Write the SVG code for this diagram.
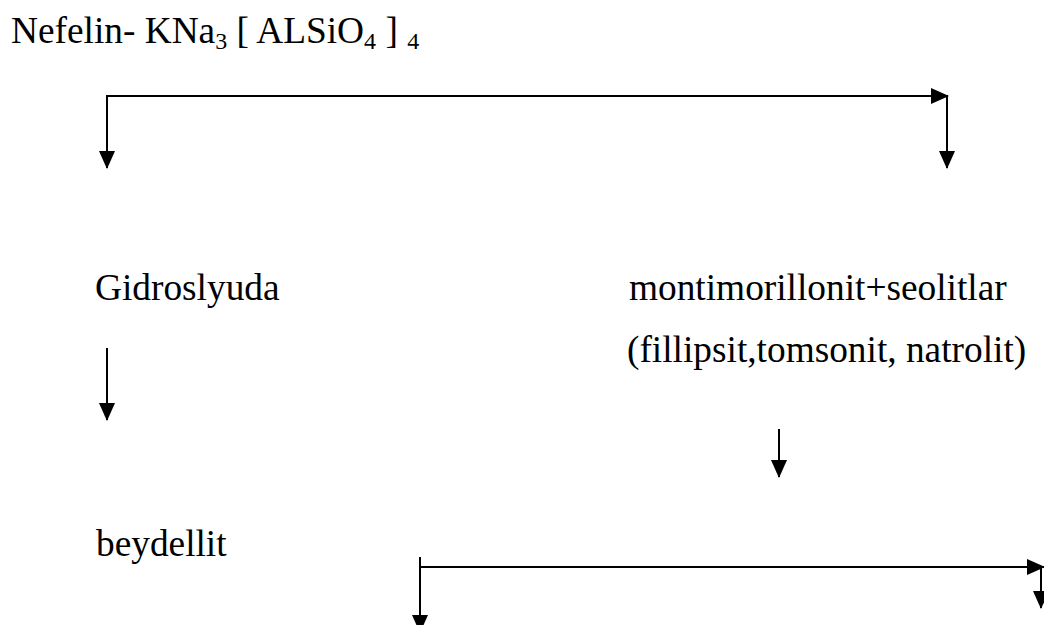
<svg xmlns="http://www.w3.org/2000/svg" width="1044" height="625" viewBox="0 0 1044 625">
<defs>
<style>
.t{font-family:"Liberation Serif","Times New Roman",serif;font-size:37.33px;fill:#000}
.s{font-size:24px}
.c{stroke:#000;stroke-width:2;fill:none}
</style>
<marker id="ah" markerUnits="userSpaceOnUse" markerWidth="18" markerHeight="16" viewBox="0 0 18 16" refX="17" refY="8" orient="auto">
<path d="M0,0 L18,8 L0,16 Z" fill="#000"/>
</marker>
</defs>
<rect width="1044" height="625" fill="#fff"/>
<g id="title"><text class="t" x="11" y="43">Nefelin- KNa<tspan class="s" dy="6">3</tspan><tspan dy="-6"> [ ALSiO</tspan><tspan class="s" dy="6">4</tspan><tspan dy="-6"> ] </tspan><tspan class="s" dy="6">4</tspan></text></g>
<g id="gidroslyuda"><text class="t" x="95" y="300">Gidroslyuda</text></g>
<g id="montmorillonit"><text class="t" x="629" y="300">montimorillonit+seolitlar</text><text class="t" x="627" y="362">(fillipsit,tomsonit, natrolit)</text></g>
<g id="beydellit"><text class="t" x="96" y="556">beydellit</text></g>
<g id="connectors">
<path class="c" d="M107,96 H948" marker-end="url(#ah)"/>
<path class="c" d="M107,95 V168" marker-end="url(#ah)"/>
<path class="c" d="M947,96 V168" marker-end="url(#ah)"/>
<path class="c" d="M107,348 V420" marker-end="url(#ah)"/>
<path class="c" d="M779,429 V477" marker-end="url(#ah)"/>
<path class="c" d="M420,567 H1044" marker-end="url(#ah)"/>
<path class="c" d="M420,557 V632" marker-end="url(#ah)"/>
<path class="c" d="M1041,567 V608" marker-end="url(#ah)"/>
</g>
</svg>
